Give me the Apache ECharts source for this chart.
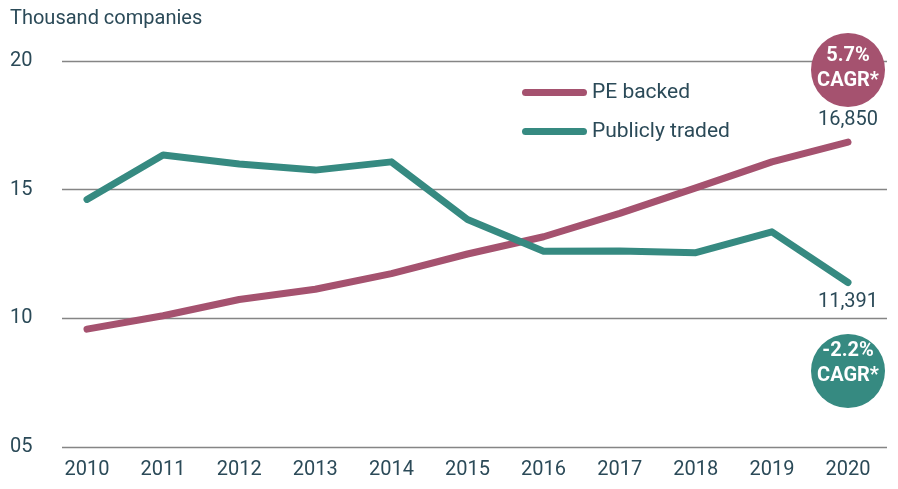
<html>
<head>
    <meta charset="UTF-8">
    <title>PE backed vs publicly traded</title>
    <script src="https://cdn.jsdelivr.net/npm/echarts@6/dist/echarts.min.js"></script>
    <style>
        html, body { margin: 0; padding: 0; background: #fff; }
        #container { width: 898px; height: 489px; }
    </style>
</head>

<body>
    <div id="container"></div>
</body>

<script>
    // data (thousand companies)
    var years = ['2010', '2011', '2012', '2013', '2014', '2015', '2016', '2017', '2018', '2019', '2020'];
    var peBacked = [9.58, 10.10, 10.73, 11.13, 11.74, 12.50, 13.17, 14.08, 15.07, 16.08, 16.85];
    var publiclyTraded = [14.62, 16.35, 16.00, 15.76, 16.08, 13.84, 12.61, 12.62, 12.55, 13.36, 11.391];
    var yMin = 5, yMax = 20, yStep = 5;

    var textColor = '#2b4a58';
    var peColor = '#a5526f';
    var tealColor = '#368a81';
    var font = 'Roboto';

    var mycharts = echarts.init(document.getElementById('container'));

    // only the last point gets a value label
    function lastLabel(arr, pos, dist) {
        return arr.map(function (v, i) {
            if (i !== arr.length - 1) return v;
            return {
                value: v,
                label: {
                    show: true, position: pos, distance: dist,
                    color: textColor, fontFamily: font, fontSize: 20,
                    formatter: function (p) {
                        return Math.round(p.value * 1000).toLocaleString('en-US');
                    }
                }
            };
        });
    }

    var option = {
        animation: false,
        title: {
            text: 'Thousand companies',
            left: 10, top: 9, padding: 0,
            textStyle: { color: textColor, fontFamily: font, fontSize: 20, fontWeight: 'normal' }
        },
        legend: {
            orient: 'vertical',
            left: 517, top: 76,
            itemWidth: 65, itemHeight: 7,
            itemGap: 16,
            icon: 'path://M3.5,0 L61.5,0 A3.5,3.5 0 0 1 61.5,7 L3.5,7 A3.5,3.5 0 0 1 3.5,0 Z',
            textStyle: { color: textColor, fontFamily: font, fontSize: 21, lineHeight: 23 },
            data: ['PE backed', 'Publicly traded']
        },
        grid: [
            // wide grid only for the horizontal rules and y labels
            { left: 62, right: 11, top: 61, bottom: 42 },
            // data grid
            { left: 87, right: 50, top: 61, bottom: 42 }
        ],
        xAxis: [
            { gridIndex: 0, type: 'value', min: 0, max: 1, show: false },
            {
                gridIndex: 1, type: 'category', boundaryGap: false, data: years,
                axisLine: { show: false }, axisTick: { show: false },
                axisLabel: { color: textColor, fontFamily: font, fontSize: 20, margin: 13 }
            }
        ],
        yAxis: [
            {
                gridIndex: 0, type: 'value', min: yMin, max: yMax, interval: yStep,
                axisLine: { show: false }, axisTick: { show: false },
                splitLine: { lineStyle: { color: '#858585', width: 1.3 } },
                axisLabel: {
                    color: textColor, fontFamily: font, fontSize: 20, align: 'left', margin: 52,
                    formatter: function (v) { return (v < 10 ? '0' : '') + v; }
                }
            },
            { gridIndex: 1, type: 'value', min: yMin, max: yMax, interval: yStep, show: false, splitLine: { show: false } }
        ],
        series: [
            {
                name: 'PE backed', type: 'line', xAxisIndex: 1, yAxisIndex: 1,
                symbol: 'circle', symbolSize: 0, showSymbol: true, color: peColor,
                lineStyle: { width: 7, color: peColor, cap: 'round', join: 'round' },
                data: lastLabel(peBacked, 'top', 12)
            },
            {
                name: 'Publicly traded', type: 'line', xAxisIndex: 1, yAxisIndex: 1,
                symbol: 'circle', symbolSize: 0, showSymbol: true, color: tealColor,
                lineStyle: { width: 7, color: tealColor, cap: 'round', join: 'round' },
                data: lastLabel(publiclyTraded, 'bottom', 9)
            }
        ],
        graphic: [
            { type: 'circle', shape: { cx: 848, cy: 70, r: 37 }, style: { fill: peColor }, z: 100 },
            { type: 'text', x: 848, y: 56, style: { text: '5.7%', fill: '#fff', font: 'bold 20px Roboto', align: 'center', verticalAlign: 'middle' }, z: 101 },
            { type: 'text', x: 848, y: 81, style: { text: 'CAGR*', fill: '#fff', font: 'bold 20px Roboto', align: 'center', verticalAlign: 'middle' }, z: 101 },
            { type: 'circle', shape: { cx: 848, cy: 371, r: 37 }, style: { fill: tealColor }, z: 100 },
            { type: 'text', x: 848, y: 351, style: { text: '-2.2%', fill: '#fff', font: 'bold 20px Roboto', align: 'center', verticalAlign: 'middle' }, z: 101 },
            { type: 'text', x: 848, y: 376, style: { text: 'CAGR*', fill: '#fff', font: 'bold 20px Roboto', align: 'center', verticalAlign: 'middle' }, z: 101 }
        ]
    };
    mycharts.setOption(option);
</script>
</html>
